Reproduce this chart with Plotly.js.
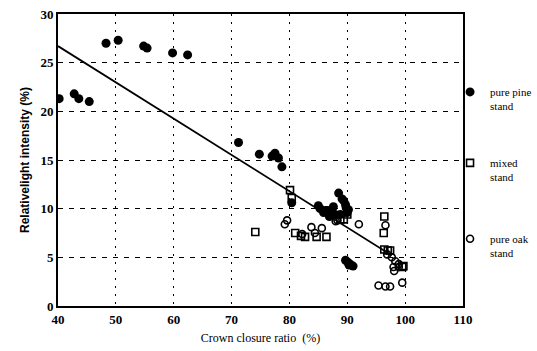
<!DOCTYPE html>
<html>
<head>
<meta charset="utf-8">
<script src="https://cdn.plot.ly/plotly-3.0.1.min.js"></script>
<style>html,body{margin:0;padding:0;background:#fff;}#chart{width:537px;height:351px;}</style>
</head>
<body>
<div id="chart"></div>
<script>
// Pure pine stand (filled circles)
const pineX = [40.2, 42.8, 43.6, 45.4, 48.3, 50.4, 54.8, 55.4, 59.8, 62.4,
               71.2, 74.8, 77.0, 77.5, 78.1, 78.7, 80.4,
               85.0, 85.3, 85.9, 86.2, 86.6, 86.9, 87.1, 87.6, 87.9, 88.5, 88.8, 89.1, 89.4, 89.7, 89.8, 90.0, 90.2,
               89.7, 90.1, 90.3, 90.5, 91.0];
const pineY = [21.3, 21.8, 21.3, 21.0, 27.0, 27.3, 26.7, 26.5, 26.0, 25.8,
               16.8, 15.6, 15.4, 15.7, 15.2, 14.3, 10.6,
               10.3, 10.0, 9.6, 9.8, 9.8, 9.2, 9.6, 10.2, 9.4, 11.6, 9.4, 11.0, 10.8, 10.4, 10.1, 9.6, 9.9,
               4.7, 4.5, 4.2, 4.3, 4.1];
// Mixed stand (open squares)
const mixedX = [74.1, 80.1, 80.4, 81.0, 82.0, 82.7, 84.7, 86.4, 88.8, 89.4, 90.0,
                96.4, 96.3, 96.4, 97.0, 97.4, 99.5, 99.7];
const mixedY = [7.6, 11.9, 11.1, 7.5, 7.2, 7.1, 7.1, 7.1, 8.9, 8.9, 9.4,
                9.2, 7.5, 5.8, 5.7, 5.7, 4.0, 4.1];
// Pure oak stand (open circles)
const oakX = [79.2, 79.6, 82.2, 83.8, 84.4, 85.6, 88.0, 88.3, 92.0,
              96.6, 96.9, 97.7, 98.3, 98.9, 98.0, 98.1, 98.9,
              95.4, 96.6, 97.4, 99.5];
const oakY = [8.4, 8.8, 7.4, 8.1, 7.5, 8.0, 8.7, 8.8, 8.4,
              8.3, 5.3, 5.0, 4.6, 4.3, 4.0, 3.6, 4.0,
              2.1, 2.0, 2.0, 2.4];
// Regression line endpoints
const fitX = [40, 97.7];
const fitY = [26.7, 5.2];

const xTicks = [40, 50, 60, 70, 80, 90, 100, 110];
const yTicks = [0, 5, 10, 15, 20, 25, 30];
const names = ['pure pine<br>stand', 'mixed<br>stand', 'pure oak<br>stand'];

const serif = 'Liberation Serif, Times New Roman, serif';

const traces = [
  {x: fitX, y: fitY, mode: 'lines', line: {color: '#000', width: 1.8}, showlegend: false, hoverinfo: 'skip'},
  {x: pineX, y: pineY, mode: 'markers', name: names[0], legend: 'legend',
   marker: {symbol: 'circle', size: 9, color: '#000', line: {color: '#000', width: 0}}},
  {x: mixedX, y: mixedY, mode: 'markers', name: names[1], legend: 'legend2',
   marker: {symbol: 'square-open', size: 7, color: '#000', line: {color: '#000', width: 1.6}}},
  {x: oakX, y: oakY, mode: 'markers', name: names[2], legend: 'legend3',
   marker: {symbol: 'circle-open', size: 7, color: '#000', line: {color: '#000', width: 1.6}}}
];

const legBase = {x: 0.968, xanchor: 'left', yanchor: 'top', valign: 'top',
  bgcolor: 'rgba(0,0,0,0)', borderwidth: 0, itemwidth: 30,
  font: {family: serif, size: 11, color: '#000'}};

const layout = {
  width: 537, height: 351,
  margin: {l: 58, r: 74, t: 14, b: 45, autoexpand: false},
  paper_bgcolor: '#fff', plot_bgcolor: '#fff',
  font: {family: serif, color: '#000'},
  xaxis: {
    range: [40, 110], tickvals: xTicks, ticktext: xTicks.map(String),
    showgrid: true, gridcolor: '#000', gridwidth: 1, griddash: '2px,6px',
    showline: true, linecolor: '#000', linewidth: 2, mirror: true,
    zeroline: false, ticks: '',
    tickfont: {family: serif, size: 13, color: '#000', weight: 700},
    title: {text: 'Crown closure ratio  (%)', font: {family: serif, size: 12, color: '#000'}, standoff: 8}
  },
  yaxis: {
    range: [0, 30], tickvals: yTicks, ticktext: yTicks.map(String),
    showgrid: true, gridcolor: '#000', gridwidth: 1, griddash: '5px,6px',
    showline: true, linecolor: '#000', linewidth: 2, mirror: true,
    zeroline: false, ticks: '',
    tickfont: {family: serif, size: 13, color: '#000', weight: 700},
    title: {text: 'Relativelight intensity (%)', font: {family: 'Liberation Sans, Arial, sans-serif', size: 12, color: '#000', weight: 700}, standoff: 8}
  },
  showlegend: true,
  legend: Object.assign({}, legBase, {y: 0.78}),
  legend2: Object.assign({}, legBase, {y: 0.537}),
  legend3: Object.assign({}, legBase, {y: 0.277})
};

Plotly.newPlot('chart', traces, layout, {staticPlot: true, displayModeBar: false});
</script>
</body>
</html>
